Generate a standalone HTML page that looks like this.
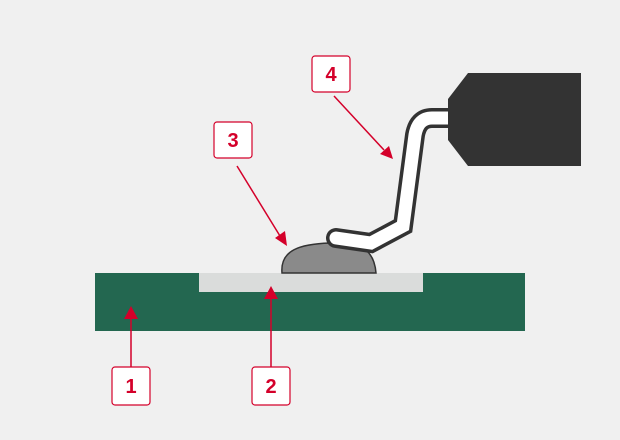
<!DOCTYPE html>
<html><head><style>
body{margin:0;background:#f0f0f0}
svg{display:block}
text{font-family:"Liberation Sans",sans-serif;font-size:20px;font-weight:bold;fill:#d4002a;text-anchor:middle}
</style></head><body>
<svg width="620" height="440" viewBox="0 0 620 440">
<rect width="620" height="440" fill="#f0f0f0"/>
<rect x="95" y="273" width="430" height="58" fill="#236750"/>
<rect x="199" y="273" width="224" height="19" fill="#dadcdb"/>
<path d="M282,273 C280,250 300,244 330,243 C360,243 374,248 376,273 Z" fill="#8a8a8a" stroke="#333" stroke-width="1.5"/>
<path d="M450,118 L432,118 Q418,118 415,135 L403,226 L371,243 L336,238" fill="none" stroke="#333" stroke-width="20" stroke-linejoin="miter" stroke-linecap="round"/>
<path d="M450,118 L432,118 Q418,118 415,135 L403,226 L371,243 L336,238" fill="none" stroke="#fff" stroke-width="13" stroke-linejoin="miter" stroke-linecap="round"/>
<polygon points="468,73 581,73 581,166 468,166 448,140 448,99" fill="#333"/>
<g stroke="#d4002a" stroke-width="1.5" fill="none">
<line x1="131" y1="367" x2="131" y2="318"/>
<line x1="271" y1="367" x2="271" y2="298"/>
<line x1="237" y1="166" x2="280" y2="236"/>
<line x1="334" y1="96" x2="384" y2="150"/>
</g>
<g fill="#d4002a">
<polygon points="131,306 124,319 138,319"/>
<polygon points="271,286 264,299 278,299"/>
<polygon points="287,246 275,238 285,231"/>
<polygon points="393,159 380,154 389,146"/>
</g>
<g fill="#fff" stroke="#d4002a" stroke-width="1.2">
<rect x="112" y="367" width="38" height="38" rx="3"/>
<rect x="252" y="367" width="38" height="38" rx="3"/>
<rect x="214" y="122" width="38" height="36" rx="3"/>
<rect x="312" y="56" width="38" height="36" rx="3"/>
</g>
<text x="131" y="393">1</text>
<text x="271" y="393">2</text>
<text x="233" y="147">3</text>
<text x="331" y="81">4</text>
</svg>
</body></html>
